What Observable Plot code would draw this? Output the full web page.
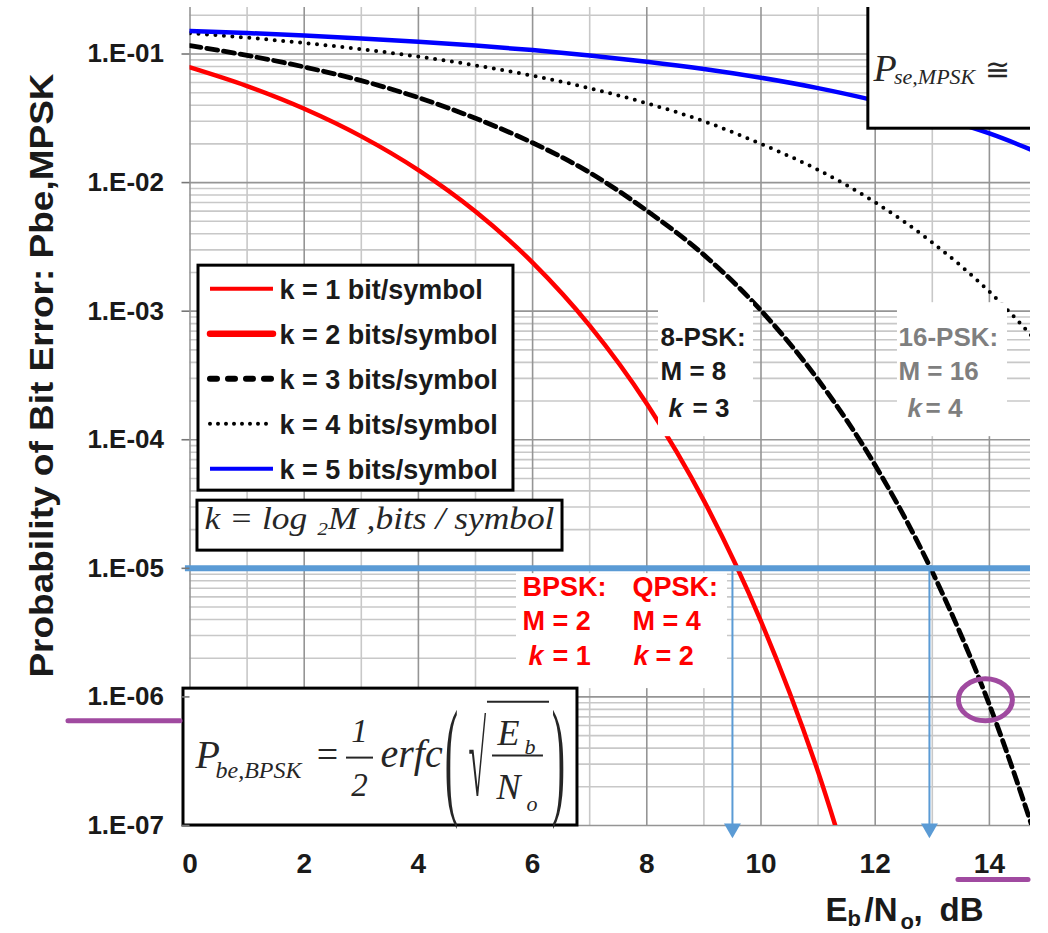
<!DOCTYPE html>
<html>
<head>
<meta charset="utf-8">
<script src="https://cdn.jsdelivr.net/npm/d3@7"></script>
<script src="https://cdn.jsdelivr.net/npm/@observablehq/plot@0.6"></script>
<style>
  body { margin: 0; background: #fff; }
</style>
</head>
<body>
<script>
// ---------- data ----------
const ebno = [0, 1, 2, 3, 4, 5, 6, 7, 8, 9, 10, 11, 12, 13, 14, 15];
// k = 1 and k = 2 (BPSK / QPSK share the same bit-error curve)
const pbK1K2 = [7.865e-2, 5.628e-2, 3.751e-2, 2.288e-2, 1.250e-2, 5.954e-3, 2.388e-3, 7.727e-4, 1.909e-4, 3.363e-5, 3.872e-6, 2.613e-7, 9.006e-9, null, null, null];
// k = 3 (8-PSK)
const pbK3 = [0.1162, 0.0976, 0.0793, 0.0621, 0.0458, 0.0316, 0.0204, 0.01196, 0.00605, 0.00274, 0.001011, 2.93e-4, 6.33e-5, 9.4e-6, 8.7e-7, 4.5e-8];
// k = 4 (16-PSK)
const pbK4 = [0.1453, 0.1340, 0.1218, 0.1089, 0.0955, 0.0816, 0.0678, 0.0542, 0.0414, 0.0300, 0.0200, 0.01256, 0.00701, 0.00342, 0.001418, 4.79e-4];
// k = 5 (32-PSK)
const pbK5 = [0.1513, 0.1456, 0.1393, 0.1323, 0.1246, 0.1163, 0.1073, 0.0975, 0.0872, 0.0765, 0.0654, 0.0543, 0.0434, 0.0332, 0.0241, 0.0161];

const xTicks = [0, 2, 4, 6, 8, 10, 12, 14];
const yTicks = [1e-1, 1e-2, 1e-3, 1e-4, 1e-5, 1e-6, 1e-7];
const yTickLabels = ["1.E-01", "1.E-02", "1.E-03", "1.E-04", "1.E-05", "1.E-06", "1.E-07"];
const legendLabels = ["k = 1 bit/symbol", "k = 2 bits/symbol", "k = 3 bits/symbol", "k = 4 bits/symbol", "k = 5 bits/symbol"];
const targetBER = 1e-5;
const requiredEbNo = [9.5, 12.95];        // BPSK/QPSK and 8-PSK at Pb = 1e-5
const highlight = [{x: 13.93, y: 9.5e-7}]; // 8-PSK at 14 dB
const yTitle = "Probability of Bit Error: Pbe,MPSK";
const logLabel = "k = log \u2082M ,bits / symbol";

// ---------- table for the library ----------
const series = [
  {key: "k5", values: pbK5},
  {key: "k4", values: pbK4},
  {key: "k3", values: pbK3},
  {key: "k12", values: pbK1K2}
];
const rows = series.flatMap(s => ebno.map((x, i) => ({key: s.key, x, y: s.values[i]})));
const rowsOf = k => rows.filter(r => r.key === k && r.y != null);

const xMajor = xTicks;
const xMinor = [1, 3, 5, 7, 9, 11, 13];
const yMinor = [];
for (let e = -7; e <= -1; e++) for (let m = 2; m <= 9; m++) {
  const v = m * Math.pow(10, e);
  if (v <= 0.23) yMinor.push(v);
}

// ---------- helpers ----------
const SANS = "Liberation Sans, Arial, sans-serif";
const SERIF = "Liberation Serif, Times New Roman, DejaVu Serif, serif";
const INK = "#1a1a1a";
const FORM = "#262626";
const PURPLE = "#a04aa0";
const STEEL = "#5b9bd5";

function txt(s, x, y, o = {}) {
  return Plot.text([s], {x, y, text: d => d, textAnchor: "start", lineAnchor: "middle", fill: INK, fontFamily: SANS, ...o});
}
function box(x1, x2, y1, y2, o = {}) {
  return Plot.rect([0], {x1, x2, y1, y2, fill: "white", ...o});
}
const ellipseSymbol = {
  draw(ctx) {
    const rx = 27, ry = 21, k = 0.5523;
    ctx.moveTo(rx, 0);
    ctx.bezierCurveTo(rx, ry * k, rx * k, ry, 0, ry);
    ctx.bezierCurveTo(-rx * k, ry, -rx, ry * k, -rx, 0);
    ctx.bezierCurveTo(-rx, -ry * k, -rx * k, -ry, 0, -ry);
    ctx.bezierCurveTo(rx * k, -ry, rx, -ry * k, rx, 0);
    ctx.closePath();
  }
};
const downTriangle = {
  draw(ctx, size) {
    const y = Math.sqrt(size / (Math.sqrt(3) * 3));
    ctx.moveTo(0, 2 * y);
    ctx.lineTo(-Math.sqrt(3) * y, -y);
    ctx.lineTo(Math.sqrt(3) * y, -y);
    ctx.closePath();
  }
};

const legendSampleY = [1.496e-3, 6.68e-4, 2.986e-4, 1.334e-4, 5.963e-5];
const legendTextY = [1.443e-3, 6.447e-4, 2.882e-4, 1.288e-4, 5.752e-5];
const legendStyles = [
  {stroke: "#ff0000", strokeWidth: 4},
  {stroke: "#ff0000", strokeWidth: 6.5, strokeLinecap: "round"},
  {stroke: "#000", strokeWidth: 6, strokeDasharray: "7 11", strokeLinecap: "round"},
  {stroke: "#000", strokeWidth: 4, strokeDasharray: "0 8", strokeLinecap: "round"},
  {stroke: "#0000ff", strokeWidth: 4}
];

const chart = Plot.plot({
  width: 1048,
  height: 933,
  marginLeft: 189.5,
  marginRight: 18,
  marginTop: 7,
  marginBottom: 108,
  style: {fontFamily: SANS, background: "white"},
  x: {domain: [0, 14.72]},
  y: {type: "log", domain: [1e-7, 0.23]},
  marks: [
    // grid
    Plot.gridY(yMinor, {stroke: "#c8c8c8", strokeOpacity: 1, strokeWidth: 1.6}),
    Plot.gridX(xMinor, {stroke: "#c8c8c8", strokeOpacity: 1, strokeWidth: 1.6}),
    Plot.gridY(yTicks, {stroke: "#959595", strokeOpacity: 1, strokeWidth: 1.6}),
    Plot.gridX(xMajor, {stroke: "#959595", strokeOpacity: 1, strokeWidth: 1.6}),

    // curves
    Plot.line(rowsOf("k4"), {x: "x", y: "y", stroke: "#000", strokeWidth: 4, strokeDasharray: "0 8.5", strokeLinecap: "round", curve: "monotone-x", clip: true}),
    Plot.line(rowsOf("k3"), {x: "x", y: "y", stroke: "#000", strokeWidth: 4.8, strokeDasharray: "11 6", curve: "monotone-x", clip: true}),
    Plot.line(rowsOf("k5"), {x: "x", y: "y", stroke: "#0000ff", strokeWidth: 4.5, curve: "monotone-x", clip: true}),
    Plot.line(rowsOf("k12"), {x: "x", y: "y", stroke: "#ff0000", strokeWidth: 4.5, curve: "monotone-x", clip: true}),

    // white label backgrounds
    box(8.205, 9.869, 1.164e-3, 1.057e-4),
    box(12.39, 14.317, 1.164e-3, 1.057e-4),
    box(5.718, 9.413, 9.09e-6, 1.16e-6),

    // target BER line and arrows
    Plot.ruleY([targetBER], {x1: -0.08, x2: 14.72, stroke: STEEL, strokeWidth: 6}),
    Plot.ruleX(requiredEbNo, {y1: targetBER, y2: 1e-7, stroke: STEEL, strokeWidth: 2}),
    Plot.dot(requiredEbNo, {x: d => d, y: 1e-7, dy: 3, symbol: downTriangle, r: 6.3, fill: STEEL, stroke: "none"}),

    // top-right formula box (cropped by the frame)
    box(11.88, 16, 0.02625, 1, {stroke: "#000", strokeWidth: 3, clip: true}),
    txt("P", 11.97, 0.0762, {fontFamily: SERIF, fontStyle: "italic", fontSize: 38, fill: FORM}),
    txt("se,MPSK", 12.33, 0.0666, {fontFamily: SERIF, fontStyle: "italic", fontSize: 22, fill: FORM}),
    txt("\u2245", 14.142, 0.0742, {fontFamily: SERIF, fontSize: 30, fill: FORM, textAnchor: "middle"}),

    // legend
    box(0.149, 5.665, 2.259e-3, 4.02e-5, {stroke: "#000", strokeWidth: 3}),
    ...legendStyles.map((s, i) => Plot.ruleY([legendSampleY[i]], {x1: 0.359, x2: 1.462, ...s})),
    Plot.text(legendLabels, {x: 1.567, y: (d, i) => legendTextY[i], text: d => d, textAnchor: "start", lineAnchor: "middle", fontSize: 27, fontWeight: "bold", fill: INK}),

    // k = log2 M box
    box(0.131, 6.524, 3.36e-5, 1.373e-5, {stroke: "#000", strokeWidth: 3}),
    txt(logLabel, 3.319, 2.435e-5, {fontFamily: SERIF, fontStyle: "italic", fontSize: 31, fill: FORM, textAnchor: "middle"}),

    // 8-PSK label
    txt("8-PSK:", 8.24, 6.22e-4, {fontSize: 26, fontWeight: "bold"}),
    txt("M = 8", 8.24, 3.385e-4, {fontSize: 26, fontWeight: "bold"}),
    txt("k", 8.38, 1.745e-4, {fontSize: 26, fontWeight: "bold", fontStyle: "italic"}),
    txt("= 3", 8.80, 1.745e-4, {fontSize: 26, fontWeight: "bold"}),

    // 16-PSK label
    txt("16-PSK:", 12.408, 6.22e-4, {fontSize: 26, fontWeight: "bold", fill: "#7f7f7f"}),
    txt("M = 16", 12.408, 3.385e-4, {fontSize: 26, fontWeight: "bold", fill: "#7f7f7f"}),
    txt("k", 12.566, 1.745e-4, {fontSize: 26, fontWeight: "bold", fontStyle: "italic", fill: "#7f7f7f"}),
    txt("= 4", 12.881, 1.745e-4, {fontSize: 26, fontWeight: "bold", fill: "#7f7f7f"}),

    // BPSK / QPSK labels
    txt("BPSK:", 5.823, 7.08e-6, {fontSize: 27, fontWeight: "bold", fill: "#ff0000"}),
    txt("M = 2", 5.823, 3.85e-6, {fontSize: 27, fontWeight: "bold", fill: "#ff0000"}),
    txt("k", 5.928, 2.058e-6, {fontSize: 27, fontWeight: "bold", fontStyle: "italic", fill: "#ff0000"}),
    txt("= 1", 6.349, 2.058e-6, {fontSize: 27, fontWeight: "bold", fill: "#ff0000"}),
    txt("QPSK:", 7.75, 7.08e-6, {fontSize: 27, fontWeight: "bold", fill: "#ff0000"}),
    txt("M = 4", 7.75, 3.85e-6, {fontSize: 27, fontWeight: "bold", fill: "#ff0000"}),
    txt("k", 7.767, 2.058e-6, {fontSize: 27, fontWeight: "bold", fontStyle: "italic", fill: "#ff0000"}),
    txt("= 2", 8.153, 2.058e-6, {fontSize: 27, fontWeight: "bold", fill: "#ff0000"}),

    // BPSK formula box
    box(-0.114, 6.786, 1.16e-6, 1e-7, {stroke: "#000", strokeWidth: 3}),
    txt("P", 0.096, 3.527e-7, {fontFamily: SERIF, fontStyle: "italic", fontSize: 40, fill: FORM}),
    txt("be,BPSK", 0.447, 2.672e-7, {fontFamily: SERIF, fontStyle: "italic", fontSize: 24, fill: FORM}),
    txt("=", 2.408, 3.527e-7, {fontFamily: SERIF, fontSize: 38, fill: FORM, textAnchor: "middle"}),
    txt("1", 2.968, 5.374e-7, {fontFamily: SERIF, fontStyle: "italic", fontSize: 33, fill: FORM, textAnchor: "middle"}),
    Plot.ruleY([3.373e-7], {x1: 2.741, x2: 3.214, stroke: FORM, strokeWidth: 2}),
    txt("2", 2.968, 2.043e-7, {fontFamily: SERIF, fontStyle: "italic", fontSize: 33, fill: FORM, textAnchor: "middle"}),
    txt("erfc", 3.336, 3.559e-7, {fontFamily: SERIF, fontStyle: "italic", fontSize: 40, fill: FORM}),
    txt("(", 4.58, 3.373e-7, {fontFamily: SERIF, fontSize: 40, fill: FORM, textAnchor: "middle"}),
    txt("\u221A", 5.03, 3.2e-7, {fontFamily: SERIF, fontSize: 40, fill: FORM, textAnchor: "middle"}),
    Plot.ruleY([9.19e-7], {x1: 5.21, x2: 6.296, stroke: FORM, strokeWidth: 2}),
    txt("E", 5.385, 5.18e-7, {fontFamily: SERIF, fontStyle: "italic", fontSize: 36, fill: FORM}),
    txt("b", 5.858, 4.107e-7, {fontFamily: SERIF, fontStyle: "italic", fontSize: 22, fill: FORM}),
    Plot.ruleY([3.497e-7], {x1: 5.298, x2: 6.19, stroke: FORM, strokeWidth: 2}),
    txt("N", 5.368, 1.97e-7, {fontFamily: SERIF, fontStyle: "italic", fontSize: 36, fill: FORM}),
    txt("o", 5.893, 1.48e-7, {fontFamily: SERIF, fontStyle: "italic", fontSize: 22, fill: FORM}),
    txt(")", 6.454, 3.373e-7, {fontFamily: SERIF, fontSize: 40, fill: FORM, textAnchor: "middle"}),

    // purple highlights
    Plot.dot(highlight, {x: "x", y: "y", symbol: ellipseSymbol, r: 5, fill: "none", stroke: PURPLE, strokeWidth: 5}),
    Plot.ruleY([6.54e-7], {x1: -2.128, x2: -0.166, stroke: PURPLE, strokeWidth: 5, strokeLinecap: "round"}),
    Plot.ruleY([3.796e-8], {x1: 13.459, x2: 14.685, stroke: PURPLE, strokeWidth: 5, strokeLinecap: "round"}),

    // axes
    Plot.axisY({ticks: yTicks, tickSize: 8, tickPadding: 18, tickFormat: d => yTickLabels[yTicks.indexOf(d)],
      fontSize: 26, fontWeight: "bold", fill: INK, stroke: "#777", strokeWidth: 1.6, label: null}),
    Plot.axisX({ticks: xTicks, tickSize: 0, tickPadding: 28, fontSize: 28, fontWeight: "bold", fill: INK, label: null}),

    // axis titles
    Plot.text([yTitle], {frameAnchor: "left", dx: -148, dy: -41, rotate: -90, text: d => d, textAnchor: "middle", lineAnchor: "middle",
      fontSize: 34, fontWeight: "bold", fill: INK}),
    txt("E", 11.13, 2.179e-8, {fontSize: 33, fontWeight: "bold"}),
    txt("b", 11.515, 1.888e-8, {fontSize: 22, fontWeight: "bold"}),
    txt("/N", 11.813, 2.179e-8, {fontSize: 33, fontWeight: "bold"}),
    txt("o", 12.443, 1.79e-8, {fontSize: 22, fontWeight: "bold"}),
    txt(",", 12.67, 2.179e-8, {fontSize: 33, fontWeight: "bold"}),
    txt("dB", 13.126, 2.179e-8, {fontSize: 33, fontWeight: "bold"})
  ]
});

document.body.append(chart);

// typographic stretching (tall brackets / radical, fitted label lengths)
function stretch(el, sx, sy) {
  const bb = el.getBBox();
  const cx = bb.x + bb.width / 2, cy = bb.y + bb.height / 2;
  const old = el.getAttribute("transform") || "";
  el.setAttribute("transform", `${old} translate(${cx},${cy}) scale(${sx},${sy}) translate(${-cx},${-cy})`);
}
chart.querySelectorAll("text").forEach(el => {
  const t = el.textContent;
  if (t === "(" || t === ")") stretch(el, 1, 3.3);
  else if (t === "\u221A") stretch(el, 0.8, 2.6);
  else if (t === yTitle) stretch(el, 605 / el.getBBox().width, 1);
  else if (t === logLabel) stretch(el, 350 / el.getBBox().width, 1);
});
</script>
</body>
</html>
